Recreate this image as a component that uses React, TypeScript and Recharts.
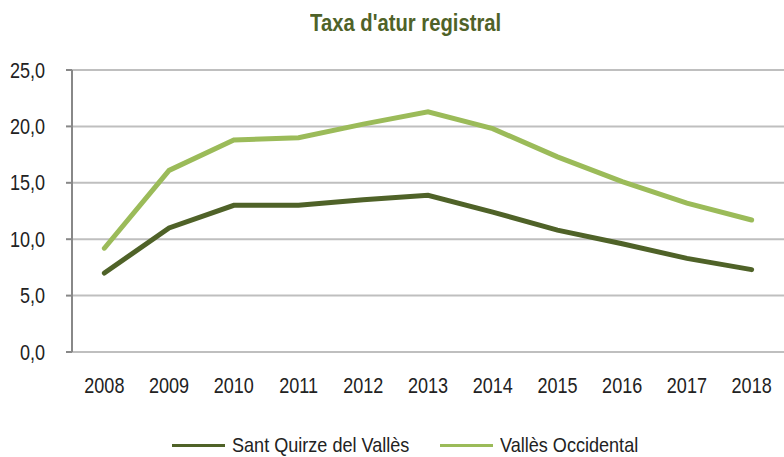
import React from "react";
import { LineChart, Line, XAxis, YAxis, CartesianGrid } from "recharts";

const years = ["2008", "2009", "2010", "2011", "2012", "2013", "2014", "2015", "2016", "2017", "2018"];
const santQuirze = [7.0, 11.0, 13.0, 13.0, 13.5, 13.9, 12.4, 10.8, 9.6, 8.3, 7.3];
const vallesOccidental = [9.2, 16.1, 18.8, 19.0, 20.2, 21.3, 19.8, 17.3, 15.1, 13.2, 11.7];
const yTicks = [0, 5, 10, 15, 20, 25];
const seriesNames = ["Sant Quirze del Vallès", "Vallès Occidental"];

const DARK = "#4f6228";
const LIGHT = "#9bbb59";
const FONT = '"Liberation Sans", Arial, sans-serif';
const NARROW = 0.82; // emulate Arial Narrow

const data = years.map((y, i) => ({
  idx: i,
  year: y,
  sq: santQuirze[i],
  vo: vallesOccidental[i],
}));

const bandEdges = years.map((_, i) => i - 0.5).concat([years.length - 0.5]);

function XTick(props: any) {
  const { x, payload } = props;
  return (
    <text
      transform={`translate(${x},393) scale(${NARROW},1)`}
      textAnchor="middle"
      fontFamily={FONT}
      fontSize={22}
      fill="#222"
    >
      {years[payload.value]}
    </text>
  );
}

function YTick(props: any) {
  const { y, payload } = props;
  return (
    <text
      transform={`translate(45,${y + 7.5}) scale(${NARROW},1)`}
      textAnchor="end"
      fontFamily={FONT}
      fontSize={22}
      fill="#222"
    >
      {Number(payload.value).toFixed(1).replace(".", ",")}
    </text>
  );
}

const narrowSpan: React.CSSProperties = {
  display: "inline-block",
  transform: `scaleX(${NARROW})`,
  whiteSpace: "nowrap",
};

export default function App() {
  const colors = [DARK, LIGHT];
  return (
    <div style={{ position: "absolute", left: 0, top: 0, width: 784, height: 457, background: "#fff" }}>
      <div
        style={{
          position: "absolute",
          top: 10,
          left: 297,
          width: 200,
          textAlign: "center",
          fontFamily: FONT,
          fontWeight: "bold",
          fontSize: 23,
          lineHeight: "26px",
          color: DARK,
        }}
      >
        <span style={{ ...narrowSpan, transform: "scaleX(0.88)" }}>Taxa d'atur registral</span>
      </div>
      <LineChart width={784} height={457} data={data} margin={{ top: 70, right: 0, left: 0, bottom: 0 }}>
        <CartesianGrid vertical={false} stroke="#bfbfbf" strokeWidth={2} />
        <XAxis
          dataKey="idx"
          type="number"
          domain={[-0.5, years.length - 0.5]}
          ticks={years.map((_, i) => i)}
          tickLine={false}
          axisLine={false}
          tickSize={0}
          height={105}
          interval={0}
          tick={<XTick />}
        />
        <XAxis
          xAxisId="edges"
          dataKey="idx"
          type="number"
          domain={[-0.5, years.length - 0.5]}
          ticks={bandEdges}
          tick={false}
          tickSize={6}
          tickLine={{ stroke: "#888", strokeWidth: 2 }}
          axisLine={{ stroke: "#888", strokeWidth: 2 }}
          height={0}
          interval={0}
        />
        <YAxis
          domain={[0, 25]}
          ticks={yTicks}
          width={72}
          tickSize={6}
          tickLine={{ stroke: "#888", strokeWidth: 2 }}
          axisLine={{ stroke: "#888", strokeWidth: 2 }}
          tick={<YTick />}
          interval={0}
        />
        <Line
          dataKey="sq"
          name={seriesNames[0]}
          stroke={DARK}
          strokeWidth={5}
          dot={false}
          activeDot={false}
          isAnimationActive={false}
          strokeLinecap="round"
        />
        <Line
          dataKey="vo"
          name={seriesNames[1]}
          stroke={LIGHT}
          strokeWidth={5}
          dot={false}
          activeDot={false}
          isAnimationActive={false}
          strokeLinecap="round"
        />
      </LineChart>
      {seriesNames.map((name, i) => (
        <div
          key={name}
          style={{
            position: "absolute",
            top: 435,
            left: i === 0 ? 172 : 440,
            display: "flex",
            alignItems: "center",
            height: 20,
            lineHeight: "20px",
            fontFamily: FONT,
            fontSize: 21,
            color: "#222",
          }}
        >
          <span style={{ display: "inline-block", width: 53, height: 3, background: colors[i] }} />
          <span style={{ ...narrowSpan, transform: "scaleX(0.86)", transformOrigin: "left center", marginLeft: 7 }}>
            {name}
          </span>
        </div>
      ))}
    </div>
  );
}
